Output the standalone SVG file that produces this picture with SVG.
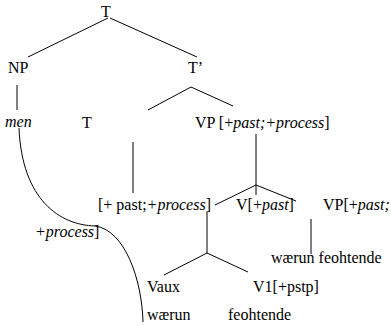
<svg xmlns="http://www.w3.org/2000/svg" width="391" height="326" viewBox="0 0 391 326">
<style>
text{font-family:"Liberation Serif","Times New Roman",serif;font-size:16px;fill:#000}
.i{font-style:italic}
.c line,.c path{stroke:#000;stroke-width:1;fill:none}
</style>
<rect width="391" height="326" fill="#fff"/>
<g class="c" id="connectors">
<line x1="108" y1="18" x2="28" y2="57"/>
<line x1="110" y1="18" x2="197" y2="57"/>
<line x1="17" y1="85" x2="17" y2="110"/>
<line x1="191" y1="87" x2="148" y2="110"/>
<line x1="191" y1="87" x2="233" y2="106"/>
<line x1="133" y1="142" x2="133" y2="193"/>
<line x1="256" y1="134" x2="256" y2="195"/>
<line x1="256" y1="185" x2="215" y2="205"/>
<line x1="256" y1="185" x2="296" y2="201"/>
<line x1="311" y1="219" x2="311" y2="254"/>
<line x1="207" y1="212" x2="207" y2="253"/>
<line x1="207" y1="253" x2="164" y2="275"/>
<line x1="207" y1="253" x2="248" y2="272"/>
<path d="M19,128 C22,200 60,225 95,226 C125,230 142,280 143,322"/>
</g>
<g id="n-T"><text x="101" y="17">T</text></g>
<g id="n-NP"><text x="8" y="73">NP</text></g>
<g id="n-Tbar"><text x="188" y="73">T’</text></g>
<g id="n-men"><text class="i" x="5" y="127">men</text></g>
<g id="n-T2"><text x="82" y="128">T</text></g>
<g id="n-VP"><text x="195" y="128">VP [+<tspan class="i">past;+process</tspan>]</text></g>
<g id="n-feat"><text x="98" y="210">[+ past;<tspan class="i">+process</tspan>]</text></g>
<g id="n-feat2"><text x="35" y="237"><tspan class="i">+process</tspan>]</text></g>
<g id="n-Vpast"><text x="236" y="210">V[+<tspan class="i">past</tspan>]</text></g>
<g id="n-VP2"><text x="323" y="210">VP[+<tspan class="i">past;</tspan></text></g>
<g id="n-wf"><text x="271" y="263">wærun feohtende</text></g>
<g id="n-Vaux"><text x="147" y="292">Vaux</text></g>
<g id="n-V1"><text x="253" y="292">V1[+pstp]</text></g>
<g id="n-waerun"><text x="147" y="320">wærun</text></g>
<g id="n-feoh"><text x="228" y="320">feohtende</text></g>
</svg>
